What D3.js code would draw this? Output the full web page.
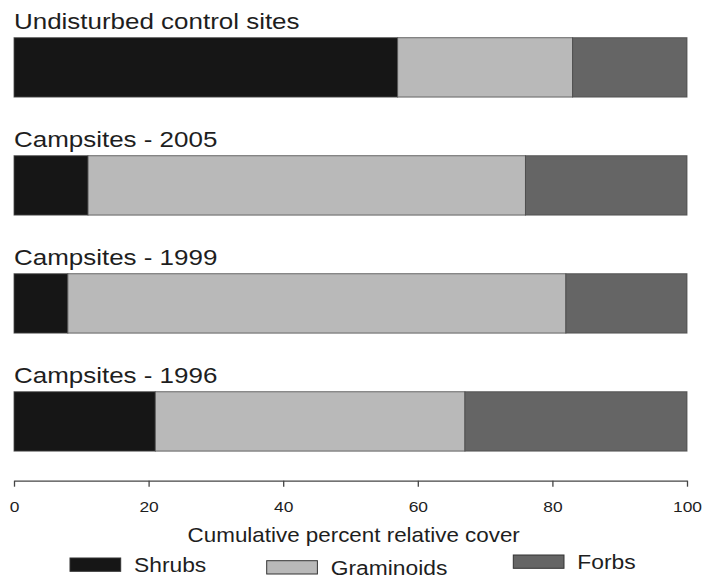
<!DOCTYPE html>
<html>
<head>
<meta charset="utf-8">
<script src="https://cdn.jsdelivr.net/npm/d3@7"></script>
<style>
    body { margin: 0; background: #fff; }
    text { font-family: "Liberation Sans", Arial, sans-serif; fill: #1e1e1e; }
</style>
</head>
<body>
<div id="chart"></div>
<script>
// data
let sites = ["Undisturbed control sites", "Campsites - 2005", "Campsites - 1999", "Campsites - 1996"];
let groups = ["Shrubs", "Graminoids", "Forbs"];
let shrubs = [57, 11, 8, 21];
let graminoids = [26, 65, 74, 46];
let forbs = [17, 24, 18, 33];
let ticks = [0, 20, 40, 60, 80, 100];

let colors = ["#161616", "#b9b9b9", "#656565"];

let width = 715, height = 578;

let svg = d3.select("#chart").append("svg")
    .attr("width", width)
    .attr("height", height);

// scales
let x = d3.scaleLinear().domain([0, 100]).range([14, 687]);
let y = d3.scaleBand().domain(sites).range([37.7, 451.1]).paddingInner(0.497).paddingOuter(0);
let color = d3.scaleOrdinal().domain(groups).range(colors);

// stack the three series
let table = sites.map((s, i) => ({site: s, Shrubs: shrubs[i], Graminoids: graminoids[i], Forbs: forbs[i]}));
let stacked = d3.stack().keys(groups)(table);

// the text in the picture is a bit wider than normal, stretch it
let sx = 1.18;

// row titles
svg.selectAll("text.row-title")
    .data(sites)
    .enter()
    .append("text")
    .attr("class", "row-title")
    .attr("transform", d => "translate(" + x(0) + "," + (y(d) - 8.7) + ") scale(" + sx + ",1)")
    .style("font-size", "22px")
    .text(d => d);

// bars
svg.selectAll("g.layer")
    .data(stacked)
    .enter()
    .append("g")
    .attr("class", "layer")
    .attr("fill", d => color(d.key))
    .selectAll("rect")
    .data(d => d)
    .enter()
    .append("rect")
    .attr("x", d => x(d[0]))
    .attr("y", d => y(d.data.site))
    .attr("width", d => x(d[1]) - x(d[0]))
    .attr("height", y.bandwidth())
    .attr("stroke", "#4a4a4a")
    .attr("stroke-opacity", 0.8)
    .attr("stroke-width", 1);

// x axis
let xAxis = d3.axisBottom(x)
    .tickValues(ticks)
    .tickSize(6)
    .tickPadding(15)
    .tickSizeOuter(0);

let axisG = svg.append("g")
    .attr("class", "x-axis")
    .attr("transform", "translate(0,480.7)")
    .call(xAxis);

axisG.select(".domain").attr("stroke", "#444").attr("stroke-width", 1.3);
axisG.selectAll(".tick line").attr("stroke", "#444").attr("stroke-width", 1.3);
axisG.selectAll(".tick text")
    .attr("fill", "#1e1e1e")
    .style("font-family", "'Liberation Sans', Arial, sans-serif")
    .style("font-size", "14.5px")
    .attr("transform", "scale(1.2,1)");

// axis title
svg.append("text")
    .attr("text-anchor", "middle")
    .attr("transform", "translate(353.7,542) scale(1.12,1)")
    .style("font-size", "20px")
    .text("Cumulative percent relative cover");

// legend (positions in the picture are a bit staggered)
let legendX = [70, 266.7, 513.3];
let legendY = [558, 560.7, 555];

let legend = svg.selectAll("g.legend")
    .data(groups)
    .enter()
    .append("g")
    .attr("class", "legend")
    .attr("transform", (d, i) => "translate(" + legendX[i] + "," + legendY[i] + ")");

legend.append("rect")
    .attr("width", 50.7)
    .attr("height", 13.3)
    .attr("fill", d => color(d))
    .attr("stroke", "#333")
    .attr("stroke-width", 1);

legend.append("text")
    .attr("transform", "translate(64,14) scale(1.17,1)")
    .style("font-size", "19.5px")
    .text(d => d);
</script>
</body>
</html>
